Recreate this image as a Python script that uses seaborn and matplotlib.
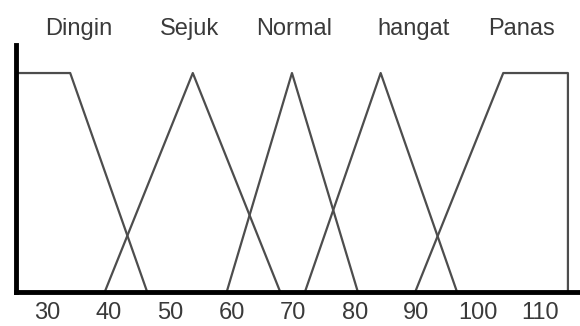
import pandas as pd
import matplotlib
matplotlib.use("Agg")
import matplotlib.pyplot as plt
import seaborn as sns

# membership functions (suhu), x
dingin_x = [25.0, 33.8, 46.3]
dingin_y = [1, 1, 0]
sejuk_x = [39.4, 53.7, 67.9]
sejuk_y = [0, 1, 0]
normal_x = [59.2, 69.8, 80.5]
normal_y = [0, 1, 0]
hangat_x = [71.9, 84.2, 96.6]
hangat_y = [0, 1, 0]
panas_x = [89.8, 104.1, 114.6, 114.6]
panas_y = [0, 1, 1, 0]

set_names = ["Dingin", "Sejuk", "Normal", "hangat", "Panas"]
label_x = [35.2, 53.2, 70.1, 89.6, 107.1]
xticks = [30, 40, 50, 60, 70, 80, 90, 100, 110]

rows = []
for name, xs, ys in zip(set_names,
                        [dingin_x, sejuk_x, normal_x, hangat_x, panas_x],
                        [dingin_y, sejuk_y, normal_y, hangat_y, panas_y]):
    for i, (xv, yv) in enumerate(zip(xs, ys)):
        rows.append({"set": name, "order": i, "suhu": xv, "mu": yv})
df = pd.DataFrame(rows)

sns.set_style("white")
plt.rcParams['font.family'] = ['Liberation Sans', 'DejaVu Sans']

fig = plt.figure(figsize=(5.8, 3.26), dpi=100)
ax = fig.add_axes([16 / 580, 34 / 326, 1 - 16 / 580, 247 / 326])

sns.lineplot(data=df, x="suhu", y="mu", hue="set", units="set",
             palette=["#4d4d4d"] * 5, estimator=None, sort=False,
             legend=False, linewidth=1.6, ax=ax)

ax.set_xlim(25.0, 116.56)
ax.set_ylim(0, 1.128)
ax.set_xticks(xticks)
ax.set_xticklabels([str(t) for t in xticks])
ax.set_yticks([])
ax.set_xlabel("")
ax.set_ylabel("")
ax.tick_params(axis="x", length=0, pad=7, labelsize=17, labelcolor="#3a3a3a")

for s in ["top", "right"]:
    ax.spines[s].set_visible(False)
for s in ["left", "bottom"]:
    ax.spines[s].set_color("black")
    ax.spines[s].set_linewidth(3.5)

for name, lx in zip(set_names, label_x):
    ax.text(lx, 1.04, name, transform=ax.get_xaxis_transform(),
            ha="center", va="baseline", fontsize=17, color="#3a3a3a")

fig.savefig("out.png", dpi=100)
